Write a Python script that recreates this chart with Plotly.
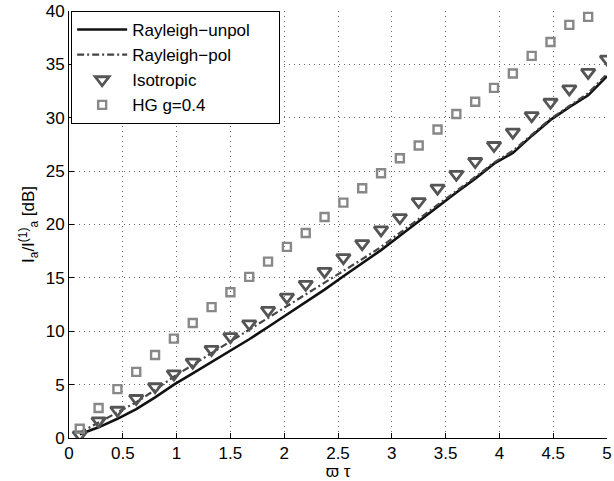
import plotly.graph_objects as go

# x positions (varpi * tau)
x_vals = [0.1, 0.275, 0.45, 0.625, 0.8, 0.975, 1.15, 1.325, 1.5, 1.675,
          1.85, 2.025, 2.2, 2.375, 2.55, 2.725, 2.9, 3.075, 3.25, 3.425,
          3.6, 3.775, 3.95, 4.125, 4.3, 4.475, 4.65, 4.825, 5.0]

rayleigh_unpol = [0.35, 1.0, 1.8, 2.7, 3.8, 5.0, 6.05, 7.1, 8.15, 9.25,
                  10.4, 11.55, 12.7, 13.9, 15.15, 16.4, 17.6, 18.95, 20.3, 21.7,
                  23.0, 24.3, 25.7, 26.7, 28.3, 29.8, 31.0, 32.1, 33.9]

rayleigh_pol = [0.5, 1.45, 2.35, 3.35, 4.5, 5.75, 6.85, 7.95, 9.05, 10.1,
                11.2, 12.3, 13.4, 14.5, 15.6, 16.75, 17.9, 19.2, 20.5, 21.85,
                23.15, 24.45, 25.8, 26.9, 28.4, 29.9, 31.1, 32.3, 34.1]

isotropic = [0.3, 1.6, 2.6, 3.7, 4.8, 6.0, 7.1, 8.3, 9.5, 10.7,
             11.95, 13.2, 14.4, 15.6, 16.9, 18.2, 19.5, 20.65, 22.15, 23.4,
             24.7, 25.9, 27.4, 28.65, 30.2, 31.45, 32.7, 34.25, 35.5]

hg_04 = [0.87, 2.81, 4.58, 6.19, 7.78, 9.31, 10.77, 12.26, 13.66, 15.09,
         16.52, 17.9, 19.2, 20.7, 22.05, 23.4, 24.8, 26.2, 27.4, 28.9,
         30.35, 31.5, 32.8, 34.15, 35.8, 37.1, 38.7, 39.45, 41.0]

series_names = ["Rayleigh\u2212unpol", "Rayleigh\u2212pol", "Isotropic", "HG g=0.4"]

x_ticks = [0, 0.5, 1, 1.5, 2, 2.5, 3, 3.5, 4, 4.5, 5]
x_tick_labels = ["0", "0.5", "1", "1.5", "2", "2.5", "3", "3.5", "4", "4.5", "5"]
y_ticks = [0, 5, 10, 15, 20, 25, 30, 35, 40]
y_tick_labels = ["0", "5", "10", "15", "20", "25", "30", "35", "40"]

FONT = "Liberation Sans, Arial, sans-serif"
FS = 17
PAD = "\u00a0" * 5  # extra right padding inside the legend box

fig = go.Figure()
fig.add_trace(go.Scatter(x=x_vals, y=rayleigh_unpol, mode="lines",
                         name=series_names[0] + PAD,
                         line=dict(color="#111111", width=2.6)))
fig.add_trace(go.Scatter(x=x_vals, y=rayleigh_pol, mode="lines",
                         name=series_names[1],
                         line=dict(color="#444444", width=2.2, dash="7px,3px,2px,3px")))
fig.add_trace(go.Scatter(x=x_vals, y=isotropic, mode="markers",
                         name=series_names[2],
                         marker=dict(symbol="triangle-down-open", size=12,
                                     color="#555555", line=dict(width=2.8, color="#555555"))))
fig.add_trace(go.Scatter(x=x_vals, y=hg_04, mode="markers",
                         name=series_names[3],
                         marker=dict(symbol="square-open", size=8,
                                     color="#888888", line=dict(width=2.4, color="#888888"))))

axis_common = dict(
    showline=True, linecolor="black", linewidth=1, mirror=False,
    ticks="inside", ticklen=5, tickcolor="black",
    showgrid=True, gridcolor="#666666", griddash="1px,4px", gridwidth=1,
    zeroline=False,
    ticklabeloverflow="allow",
    tickfont=dict(family=FONT, size=FS, color="black"),
)

fig.update_xaxes(range=[0, 5], tickvals=x_ticks, ticktext=x_tick_labels,
                 title=dict(text="\u03d6 \u03c4", font=dict(family=FONT, size=FS, color="black"),
                            standoff=0),
                 **axis_common)
fig.update_yaxes(range=[0, 40], tickvals=y_ticks, ticktext=y_tick_labels,
                 title=dict(text="I<sub>a</sub>/I<sup>(1)</sup><sub>a</sub> [dB]",
                            font=dict(family=FONT, size=FS, color="black"), standoff=6),
                 **axis_common)

fig.update_layout(
    width=614, height=481,
    margin=dict(l=69, r=2, t=9, b=43),
    plot_bgcolor="white", paper_bgcolor="white",
    font=dict(family=FONT, size=FS, color="black"),
    legend=dict(x=0.004, y=1.0, xanchor="left", yanchor="top",
                bgcolor="white", bordercolor="black", borderwidth=1,
                font=dict(family=FONT, size=FS, color="black"),
                tracegroupgap=0, itemwidth=50),
    showlegend=True,
)

fig.write_html("out.html")
